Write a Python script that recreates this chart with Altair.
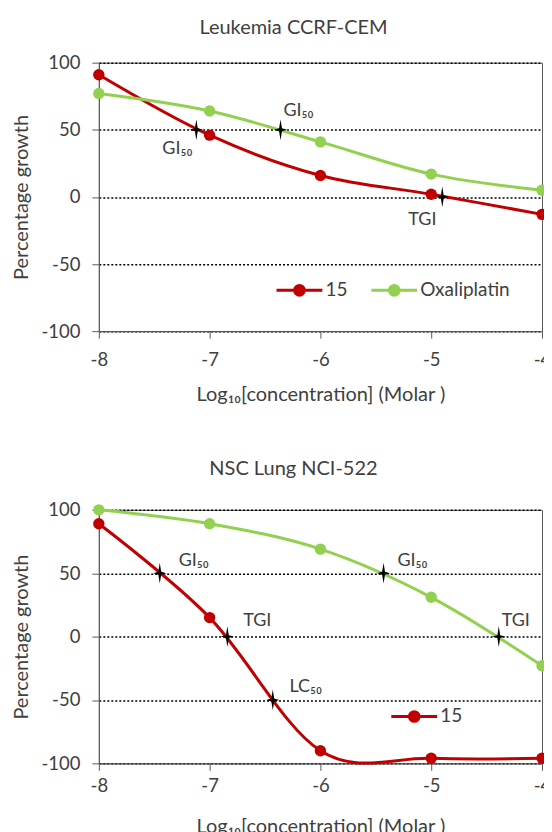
import altair as alt
import pandas as pd

# ---------------- data ----------------
conc = [-8, -7, -6, -5, -4]
series_names = ["15", "Oxaliplatin"]
series_colors = ["#C00000", "#92D050"]

leuk_title = "Leukemia CCRF-CEM"
leuk_15 = [91, 46, 16, 2, -13]
leuk_oxa = [77, 64, 41, 17, 5]
leuk_mark_labels = ["GI₅₀", "GI₅₀", "TGI"]
leuk_mark_conc = [-7.12, -6.36, -4.90]
leuk_mark_growth = [50, 50, 0]

lung_title = "NSC Lung NCI-522"
lung_15 = [89, 15, -90, -96, -96]
lung_oxa = [100, 89, 69, 31, -23]
lung_mark_labels = ["GI₅₀", "TGI", "LC₅₀", "GI₅₀", "TGI"]
lung_mark_conc = [-7.45, -6.84, -6.43, -5.43, -4.39]
lung_mark_growth = [50, 0, -50, 50, 0]

x_ticks = [-8, -7, -6, -5, -4]
y_ticks = [-100, -50, 0, 50, 100]
x_title = "Log₁₀[concentration] (Molar )"
y_title = "Percentage growth"

# ---------------- style ----------------
FONT = "Lato"
TXT = "#404040"
AXC = "#595959"
STAR = "M0,-1.6L0.22,-0.22L1,0L0.22,0.22L0,1.6L-0.22,0.22L-1,0L-0.22,-0.22Z"


def circ(r):
    return f"M{r},0A{r},{r} 0 1,1 -{r},0A{r},{r} 0 1,1 {r},0"


LEG_SYMBOL = "M-2,0H2" + "".join(circ(r) for r in (0.42, 0.29, 0.16, 0.05))

leuk_label_offsets = [(-19, 24), (18, -14), (-20, 28)]
lung_label_offsets = [(34, -7), (30, -11), (33, -8), (29, -7), (17, -11)]


def panel(title, title_offset, s15, soxa, labels, mconc, mgrowth, offsets,
          legend_values, legend_x, legend_y, height, x_label_pad):
    df = pd.DataFrame({
        "conc": conc + conc,
        "growth": s15 + soxa,
        "series": [series_names[0]] * len(conc) + [series_names[1]] * len(conc),
    })
    marks = pd.DataFrame({
        "conc": mconc, "growth": mgrowth, "label": labels,
        "idx": list(range(len(labels))),
    })
    x = alt.X("conc:Q", scale=alt.Scale(domain=[-8, -4], nice=False, zero=False),
              axis=alt.Axis(values=x_ticks, title=x_title, grid=False,
                            labelExpr="'' + datum.value", labelPadding=x_label_pad,
                            titleY=69, titleBaseline="alphabetic"))
    y = alt.Y("growth:Q", scale=alt.Scale(domain=[-100, 100], nice=False),
              axis=alt.Axis(values=y_ticks, title=y_title, grid=True,
                            labelExpr="'' + datum.value"))
    cscale = alt.Scale(domain=series_names, range=series_colors)
    legend = alt.Legend(
        orient="none", direction="horizontal", legendX=legend_x, legendY=legend_y,
        title=None, values=legend_values, symbolType=LEG_SYMBOL, symbolSize=529,
        symbolStrokeWidth=3, labelFont=FONT, labelFontSize=19, labelColor=TXT,
        labelOffset=13, columnPadding=17, padding=0, symbolOpacity=1,
    )
    lines = alt.Chart(df).mark_line(interpolate="cardinal", strokeWidth=3).encode(
        x=x, y=y, color=alt.Color("series:N", scale=cscale, legend=legend))
    points = alt.Chart(df).mark_point(filled=True, size=130, opacity=1).encode(
        x=x, y=y, fill=alt.Fill("series:N", scale=cscale, legend=None))
    stars = alt.Chart(marks).mark_point(shape=STAR, filled=True, color="black",
                                        size=169, opacity=1).encode(x=x, y=y)
    texts = []
    for i, (dx, dy) in enumerate(offsets):
        texts.append(
            alt.Chart(marks).transform_filter(alt.datum.idx == i).mark_text(
                dx=dx, dy=dy, font=FONT, fontSize=18, color=TXT,
                align="center", baseline="alphabetic").encode(x=x, y=y, text="label:N"))
    return alt.layer(lines, points, stars, *texts).properties(
        width=444, height=height,
        title=alt.TitleParams(title, dx=-27, offset=title_offset, fontSize=20,
                              font=FONT, fontWeight="normal", color=TXT,
                              frame="group", anchor="middle"),
    )


top = panel(leuk_title, 16, leuk_15, leuk_oxa, leuk_mark_labels, leuk_mark_conc,
            leuk_mark_growth, leuk_label_offsets, series_names, 188, 215, 269, 12)
bottom = panel(lung_title, 22, lung_15, lung_oxa, lung_mark_labels, lung_mark_conc,
               lung_mark_growth, lung_label_offsets, ["15"], 303, 194, 254, 6)

chart = alt.vconcat(top, bottom, spacing=53).resolve_scale(
    color="independent", fill="independent"
).properties(
    padding={"left": 3, "top": 8, "right": -8, "bottom": 0}
).configure_view(stroke=AXC, strokeWidth=1).configure_axis(
    domainColor=AXC, domainWidth=1, tickColor=AXC, tickSize=7,
    labelFont=FONT, labelFontSize=18.5, labelColor=TXT, labelPadding=12,
    labelFlush=False, labelOverlap=False,
    titleFont=FONT, titleFontSize=20, titleFontWeight="normal", titleColor=TXT,
    gridColor="black", gridDash=[2, 2], gridWidth=1.5,
).configure_axisY(titlePadding=9)

chart.save("out.html", embed_options={"renderer": "svg", "actions": False})
